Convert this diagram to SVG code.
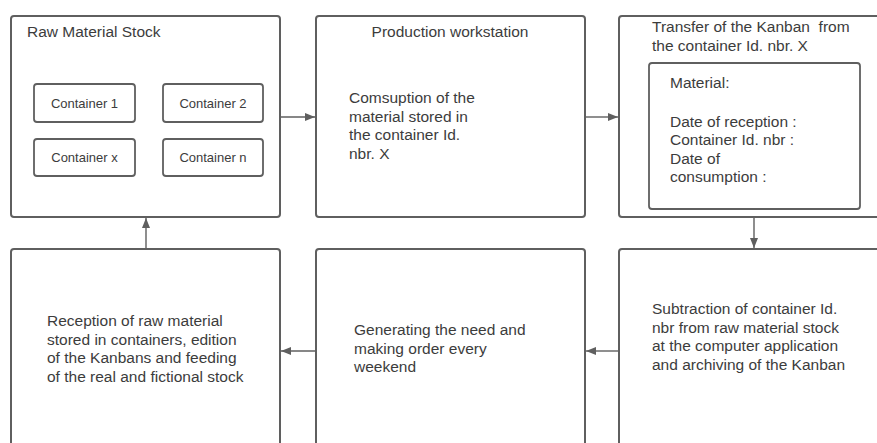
<svg xmlns="http://www.w3.org/2000/svg" width="877" height="443" viewBox="0 0 877 443">
  <style>
    .box { fill: #ffffff; stroke: #5f5f5f; stroke-width: 2; }
    .small { fill: #ffffff; stroke: #5f5f5f; stroke-width: 1.8; }
    .t { font-family: "Liberation Sans", Arial, sans-serif; font-size: 15.5px; fill: #3c3c3c; }
    .c { font-family: "Liberation Sans", Arial, sans-serif; font-size: 13px; fill: #3c3c3c; text-anchor: middle; }
    .link { fill: none; stroke: #5f5f5f; stroke-width: 1.4; marker-end: url(#arrow); }
  </style>
  <defs>
    <marker id="arrow" viewBox="0 0 10 8" refX="10" refY="4" markerWidth="10" markerHeight="8" markerUnits="userSpaceOnUse" orient="auto">
      <path d="M0,0 L10,4 L0,8 Z" fill="#5f5f5f"/>
    </marker>
  </defs>
  <rect width="877" height="443" fill="#ffffff"/>

  <g id="raw-material-stock">
    <rect class="box" x="11" y="16" width="269" height="201" rx="3"/>
    <text class="t" x="27" y="37">Raw Material Stock</text>
    <g id="container-1">
      <rect class="small" x="34" y="84" width="101" height="38" rx="3"/>
      <text class="c" x="84.5" y="107.5">Container 1</text>
    </g>
    <g id="container-2">
      <rect class="small" x="163" y="84" width="100" height="38" rx="3"/>
      <text class="c" x="213" y="107.5">Container 2</text>
    </g>
    <g id="container-x">
      <rect class="small" x="34" y="139" width="101" height="37" rx="3"/>
      <text class="c" x="84.5" y="162">Container x</text>
    </g>
    <g id="container-n">
      <rect class="small" x="163" y="139" width="100" height="37" rx="3"/>
      <text class="c" x="213" y="162">Container n</text>
    </g>
  </g>

  <g id="production-workstation">
    <rect class="box" x="316" y="16" width="269" height="201" rx="3"/>
    <text class="t" x="450" y="37" text-anchor="middle">Production workstation</text>
    <text class="t" x="349">
      <tspan x="349" y="103">Comsuption of the</tspan>
      <tspan x="349" y="121.6">material stored in</tspan>
      <tspan x="349" y="140.2">the container Id.</tspan>
      <tspan x="349" y="158.8">nbr. X</tspan>
    </text>
  </g>

  <g id="kanban-transfer">
    <rect class="box" x="619" y="16" width="300" height="201" rx="3"/>
    <text class="t">
      <tspan x="652" y="32">Transfer of the Kanban&#160; from</tspan>
      <tspan x="652" y="50.5">the container Id. nbr. X</tspan>
    </text>
    <g id="kanban-card">
      <rect class="small" x="649" y="63" width="211" height="146" rx="3"/>
      <text class="t">
        <tspan x="670" y="88">Material:</tspan>
        <tspan x="670" y="126.5">Date of reception :</tspan>
        <tspan x="670" y="145">Container Id. nbr :</tspan>
        <tspan x="670" y="163.8">Date of</tspan>
        <tspan x="670" y="182.4">consumption :</tspan>
      </text>
    </g>
  </g>

  <g id="stock-subtraction">
    <rect class="box" x="619" y="249" width="300" height="220" rx="3"/>
    <text class="t">
      <tspan x="652" y="314">Subtraction of container Id.</tspan>
      <tspan x="652" y="332.6">nbr from raw material stock</tspan>
      <tspan x="652" y="351.2">at the computer application</tspan>
      <tspan x="652" y="369.8">and archiving of the Kanban</tspan>
    </text>
  </g>

  <g id="order-generation">
    <rect class="box" x="316" y="249" width="269" height="220" rx="3"/>
    <text class="t">
      <tspan x="354" y="335">Generating the need and</tspan>
      <tspan x="354" y="353.6">making order every</tspan>
      <tspan x="354" y="372.2">weekend</tspan>
    </text>
  </g>

  <g id="material-reception">
    <rect class="box" x="11" y="249" width="269" height="220" rx="3"/>
    <text class="t">
      <tspan x="47" y="326">Reception of raw material</tspan>
      <tspan x="47" y="344.6">stored in containers, edition</tspan>
      <tspan x="47" y="363.2">of the Kanbans and feeding</tspan>
      <tspan x="47" y="381.8">of the real and fictional stock</tspan>
    </text>
  </g>

  <g id="connectors">
    <path class="link" d="M281,117 H315"/>
    <path class="link" d="M586,117 H618"/>
    <path class="link" d="M754,218 V248"/>
    <path class="link" d="M618,351 H586"/>
    <path class="link" d="M315,351 H281"/>
    <path class="link" d="M146,248 V218"/>
  </g>
</svg>
